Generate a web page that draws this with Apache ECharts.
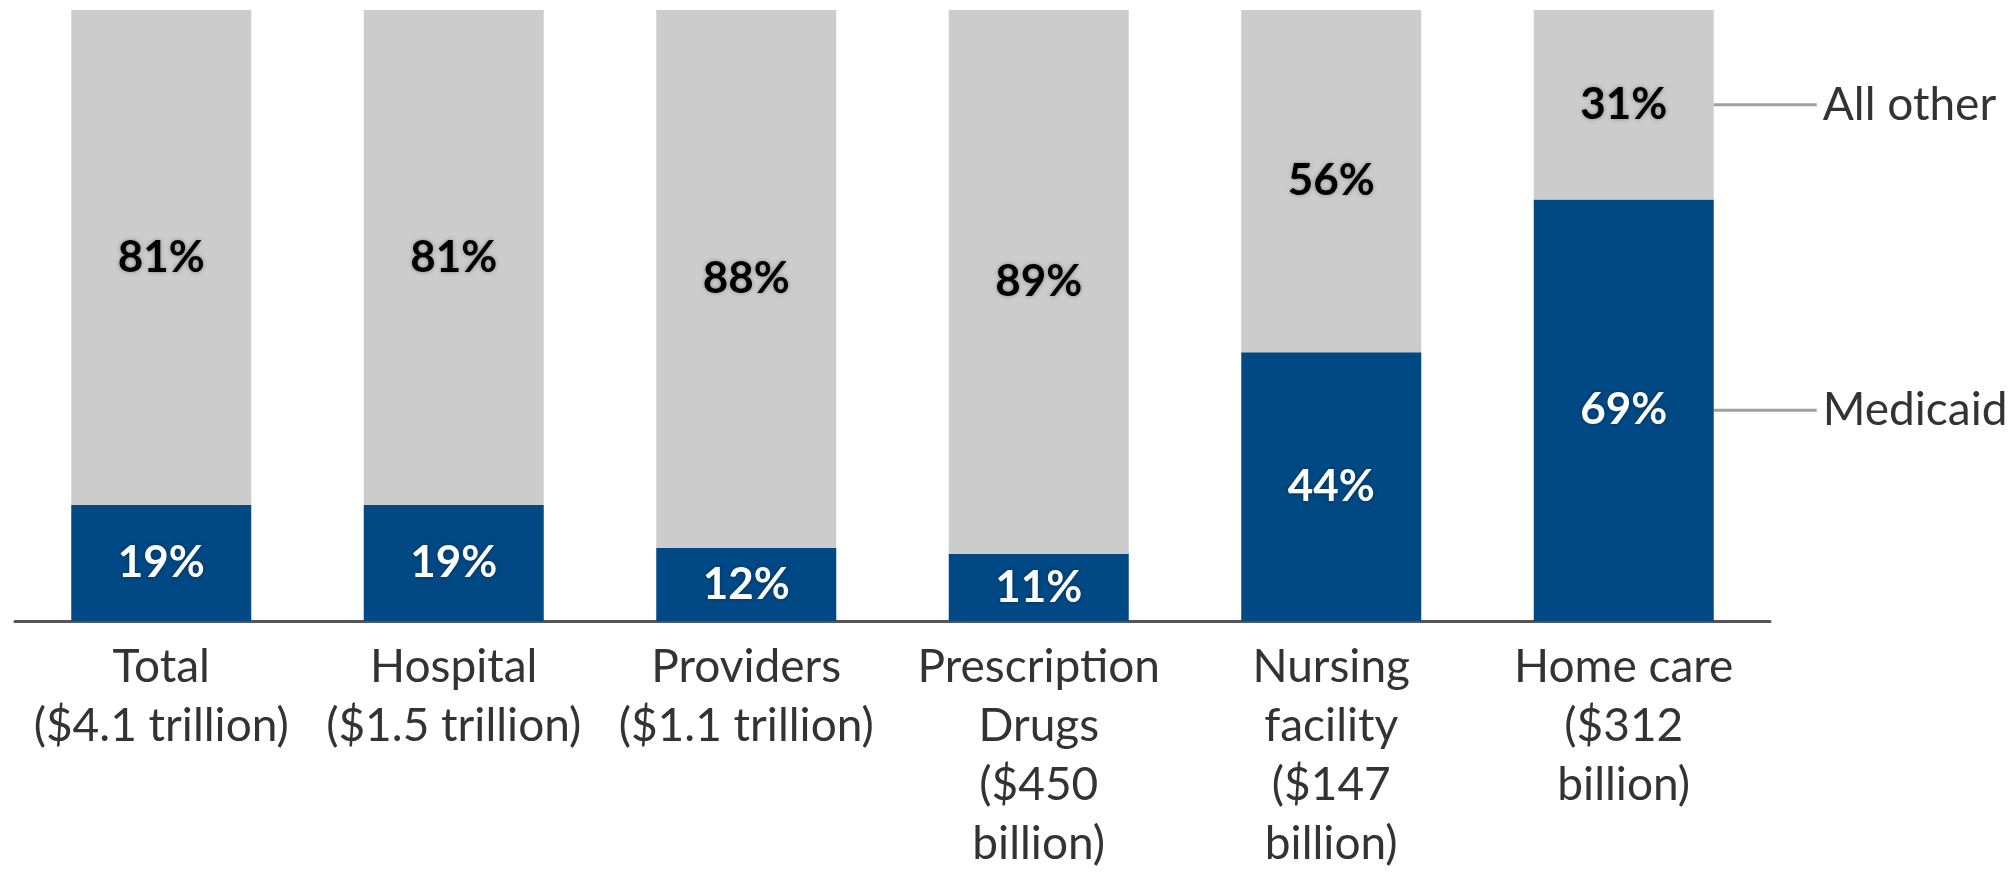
<!DOCTYPE html>
<html>
<head>
<meta charset="utf-8">
<script src="https://cdn.jsdelivr.net/npm/echarts@6/dist/echarts.min.js"></script>
<style>
  html, body { margin: 0; padding: 0; background: #fff; }
  #chart { width: 2016px; height: 874px; }
</style>
</head>
<body>
<div id="chart"></div>
<script>
// spending categories, shown under the axis
var categories = [
  'Total\n($4.1 trillion)',
  'Hospital\n($1.5 trillion)',
  'Providers\n($1.1 trillion)',
  'Prescription\nDrugs\n($450\nbillion)',
  'Nursing\nfacility\n($147\nbillion)',
  'Home care\n($312\nbillion)'
]
// share paid by Medicaid vs everyone else (%)
var medicaid = [19, 19, 12, 11, 44, 69]
var allOther = [81, 81, 88, 89, 56, 31]
var seriesNames = ['Medicaid', 'All other']

var FONT = 'Lato'
var BAR_W = 180

var pctLabel = function (color) {
  return {
    show: true,
    position: 'inside',
    formatter: '{c}%',
    color: color,
    fontFamily: FONT,
    fontWeight: 'bold',
    fontSize: 44,
    textShadowColor: 'rgba(0,0,0,0.35)',
    textShadowBlur: 4
  }
}

var myChart = echarts.init(document.getElementById('chart'))
var option = {
  animation: false,
  grid: {
    left: 15,
    right: 246,
    top: 10,
    bottom: 247,
    containLabel: false
  },
  xAxis: {
    type: 'category',
    data: categories,
    axisTick: { show: false },
    axisLine: { lineStyle: { color: '#555', width: 3 } },
    axisLabel: {
      interval: 0,
      margin: 17,
      color: '#333',
      fontFamily: FONT,
      fontSize: 46,
      lineHeight: 59
    }
  },
  yAxis: {
    type: 'value',
    min: 0,
    max: 100,
    show: false,
    splitLine: { show: false }
  },
  series: [{
    name: seriesNames[0],
    type: 'bar',
    stack: 'share',
    barWidth: BAR_W,
    data: medicaid,
    itemStyle: { color: '#004985' },
    label: pctLabel('#fff')
  }, {
    name: seriesNames[1],
    type: 'bar',
    stack: 'share',
    barWidth: BAR_W,
    data: allOther,
    itemStyle: { color: '#cccccc' },
    label: pctLabel('#000')
  }]
}
myChart.setOption(option)

// right-hand legend: leader lines from the last bar's segment middles
var last = categories.length - 1
var midMedicaid = medicaid[last] / 2
var midOther = medicaid[last] + allOther[last] / 2
var legendItems = [[seriesNames[1], midOther], [seriesNames[0], midMedicaid]]
var graphics = []
legendItems.forEach(function (it) {
  var p = myChart.convertToPixel({ gridIndex: 0 }, [last, it[1]])
  var x0 = p[0] + BAR_W / 2
  graphics.push({
    type: 'line',
    shape: { x1: x0, y1: p[1], x2: x0 + 103, y2: p[1] },
    style: { stroke: '#a0a0a0', lineWidth: 3 }
  })
  graphics.push({
    type: 'text',
    x: x0 + 109,
    y: p[1],
    style: {
      text: it[0],
      fill: '#333',
      font: '46px ' + FONT,
      verticalAlign: 'middle',
      align: 'left'
    }
  })
})
myChart.setOption({ graphic: graphics })
window.addEventListener('resize', function () { myChart.resize() })
</script>
</body>
</html>
